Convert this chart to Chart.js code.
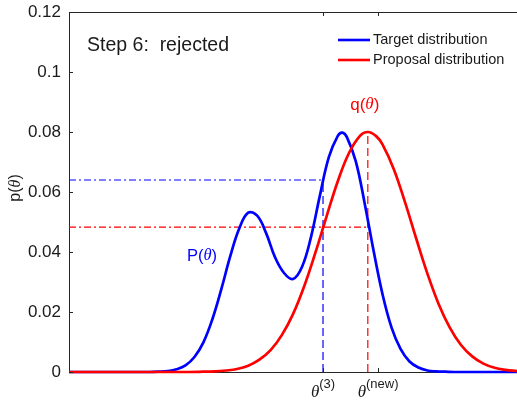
<!DOCTYPE html>
<html>
<head>
<meta charset="utf-8">
<script src="https://cdn.jsdelivr.net/npm/chart.js@4"></script>
<style>
  html, body { margin: 0; padding: 0; background: #fff; }
</style>
</head>
<body>
<canvas id="mhChart" width="517" height="401"></canvas>
<script>
// Target density p(theta), sampled along theta
const thetaTarget = [0, 1.0, 1.8, 2.0, 2.2, 2.4, 2.6, 2.8, 3.0, 3.2, 3.4, 3.6, 3.8, 4.0, 4.2, 4.4, 4.6, 4.8,
    5.0, 5.2, 5.4, 5.6, 5.8, 6.0, 6.1, 6.2, 6.4, 6.6, 6.8, 7.0, 7.2, 7.4, 7.6, 7.8, 8.0, 8.2, 8.4, 8.6, 9.3, 10];
const pTarget = [0, 0, 0, 0.0001, 0.0003, 0.0009, 0.0022, 0.005, 0.0099, 0.0176, 0.0276, 0.0386, 0.0478,
    0.0531, 0.0521, 0.0463, 0.0382, 0.033, 0.031, 0.035, 0.0449, 0.0588, 0.0716, 0.0787, 0.0798, 0.0784,
    0.0703, 0.0562, 0.0403, 0.0258, 0.0148, 0.0077, 0.0035, 0.0015, 0.0005, 0.0002, 0.0001, 0, 0, 0];

// Proposal density q(theta)
const thetaProposal = [0, 2.5, 3.0, 3.25, 3.5, 3.75, 4.0, 4.25, 4.5, 4.75, 5.0, 5.25, 5.5, 5.75, 6.0, 6.25,
    6.5, 6.67, 6.85, 7.0, 7.25, 7.5, 7.75, 8.0, 8.25, 8.5, 8.75, 9.0, 9.25, 9.5, 9.75, 10];
const pProposal = [0, 0, 0.0001, 0.0002, 0.0005, 0.001, 0.0021, 0.0041, 0.0073, 0.0123, 0.0193, 0.0286,
    0.0398, 0.0519, 0.0636, 0.073, 0.0788, 0.08, 0.0787, 0.0758, 0.0676, 0.0566, 0.0445, 0.0328, 0.0227,
    0.0148, 0.009, 0.0052, 0.0028, 0.0014, 0.0007, 0.0003];

const theta3 = 5.67;
const thetaNew = 6.9;
const qMode = 6.67;
const pAtTheta3 = 0.064;
const qAtTheta3 = 0.0483;
const qPeak = 0.08;

const yTicks = [0, 0.02, 0.04, 0.06, 0.08, 0.1, 0.12];
const yTickLabels = ['0', '0.02', '0.04', '0.06', '0.08', '0.1', '0.12'];
const xTicks = [theta3, thetaNew];
const xTickSups = ['(3)', '(new)'];

const BLUE = '#0000ff';
const RED = '#ff0000';
const AXIS = '#262626';
const SANS = "'Liberation Sans', Arial, sans-serif";
const SERIF = "'Liberation Serif', 'Times New Roman', serif";

function pts(xs, ys) {
    return xs.map((x, i) => ({ x: x, y: ys[i] }));
}

// draws pieces of text one after another: [text, font, dy]
function drawRuns(ctx, runs, x, y, align) {
    let total = 0;
    runs.forEach(r => { ctx.font = r[1]; total += ctx.measureText(r[0]).width; });
    let cx = align === 'center' ? x - total / 2 : x;
    runs.forEach(r => {
        ctx.font = r[1];
        ctx.fillText(r[0], cx, y + (r[2] || 0));
        cx += ctx.measureText(r[0]).width;
    });
}

const decorations = {
    id: 'decorations',
    afterDraw(chart) {
        const ctx = chart.ctx;
        const area = chart.chartArea;
        const xs = chart.scales.x;
        const ys = chart.scales.y;
        ctx.save();
        ctx.textAlign = 'left';

        // top edge of the box
        ctx.strokeStyle = AXIS;
        ctx.lineWidth = 1;
        ctx.beginPath();
        ctx.moveTo(area.left, Math.round(area.top) + 0.5);
        ctx.lineTo(area.right, Math.round(area.top) + 0.5);
        ctx.stroke();

        // inward tick marks
        ctx.beginPath();
        yTicks.forEach(v => {
            const py = Math.round(ys.getPixelForValue(v)) + 0.5;
            ctx.moveTo(area.left, py);
            ctx.lineTo(area.left + 4, py);
        });
        xTicks.forEach(v => {
            const px = Math.round(xs.getPixelForValue(v)) + 0.5;
            ctx.moveTo(px, area.bottom);
            ctx.lineTo(px, area.bottom - 4);
            ctx.moveTo(px, area.top);
            ctx.lineTo(px, area.top + 4);
        });
        ctx.stroke();

        // x tick labels with superscripts
        ctx.fillStyle = '#1a1a1a';
        ctx.textBaseline = 'alphabetic';
        xTicks.forEach((v, i) => {
            const px = xs.getPixelForValue(v);
            drawRuns(ctx, [
                ['\u03b8', 'italic 17px ' + SERIF, 0],
                [xTickSups[i], '13px ' + SANS, -9]
            ], px, area.bottom + 25, 'center');
        });

        // y axis title
        ctx.save();
        ctx.translate(16, 188);
        ctx.rotate(-Math.PI / 2);
        ctx.textBaseline = 'middle';
        drawRuns(ctx, [
            ['p(', '16px ' + SANS],
            ['\u03b8', 'italic 16px ' + SERIF],
            [')', '16px ' + SANS]
        ], 0, 0, 'center');
        ctx.restore();

        // step caption
        ctx.fillStyle = '#1a1a1a';
        ctx.textBaseline = 'alphabetic';
        ctx.font = '19.5px ' + SANS;
        ctx.fillText('Step 6:  rejected', 87, 51);

        // curve labels
        ctx.textBaseline = 'middle';
        ctx.fillStyle = RED;
        drawRuns(ctx, [['q(', '17px ' + SANS], ['\u03b8', 'italic 17px ' + SERIF], [')', '17px ' + SANS]],
            xs.getPixelForValue(qMode) - 3, 105, 'center');
        ctx.fillStyle = BLUE;
        drawRuns(ctx, [['P(', '16.5px ' + SANS], ['\u03b8', 'italic 16.5px ' + SERIF], [')', '16.5px ' + SANS]],
            202, 256, 'center');

        // legend
        const legend = [['Target distribution', BLUE], ['Proposal distribution', RED]];
        legend.forEach((item, i) => {
            const ly = 40 + i * 20;
            ctx.strokeStyle = item[1];
            ctx.lineWidth = 2.6;
            ctx.beginPath();
            ctx.moveTo(338, ly);
            ctx.lineTo(370, ly);
            ctx.stroke();
            ctx.fillStyle = '#1a1a1a';
            ctx.font = '14.5px ' + SANS;
            ctx.fillText(item[0], 373, ly);
        });

        ctx.restore();
    }
};

const guide = (data, color, dash) => ({
    data: data,
    borderColor: color,
    borderWidth: 1.2,
    borderDash: dash,
    pointRadius: 0,
    fill: false,
    order: 3
});

new Chart(document.getElementById('mhChart'), {
    type: 'line',
    data: {
        datasets: [
            {
                label: 'Proposal distribution',
                data: pts(thetaProposal, pProposal),
                borderColor: RED,
                borderWidth: 2.7,
                pointRadius: 0,
                tension: 0.4,
                order: 1
            },
            {
                label: 'Target distribution',
                data: pts(thetaTarget, pTarget),
                borderColor: BLUE,
                borderWidth: 2.7,
                pointRadius: 0,
                tension: 0.4,
                order: 2
            },
            guide([{ x: 0, y: pAtTheta3 }, { x: theta3, y: pAtTheta3 }], BLUE, [7, 3, 2, 3]),
            guide([{ x: theta3, y: 0 }, { x: theta3, y: pAtTheta3 }], BLUE, [8, 4]),
            guide([{ x: 0, y: qAtTheta3 }, { x: qMode, y: qAtTheta3 }], RED, [7, 3, 2, 3]),
            guide([{ x: qMode, y: 0 }, { x: qMode, y: qPeak }], RED, [8, 4])
        ]
    },
    options: {
        responsive: false,
        animation: false,
        clip: false,
        layout: { padding: { top: 12, right: 0, left: 0, bottom: 0 } },
        plugins: {
            legend: { display: false },
            tooltip: { enabled: false }
        },
        scales: {
            x: {
                type: 'linear',
                min: 0,
                max: 10,
                ticks: { display: false },
                grid: { display: false },
                border: { display: true, color: AXIS, width: 1 },
                afterFit: scale => { scale.height = 29; }
            },
            y: {
                min: 0,
                max: 0.12,
                afterBuildTicks: scale => { scale.ticks = yTicks.map(v => ({ value: v })); },
                ticks: {
                    padding: 0,
                    color: '#1a1a1a',
                    font: { family: SANS, size: 17 },
                    callback: (v) => yTickLabels[yTicks.indexOf(v)] ?? ''
                },
                grid: { display: false },
                border: { display: true, color: AXIS, width: 1 },
                afterFit: scale => { scale.width = 69; }
            }
        }
    },
    plugins: [decorations]
});
</script>
</body>
</html>
